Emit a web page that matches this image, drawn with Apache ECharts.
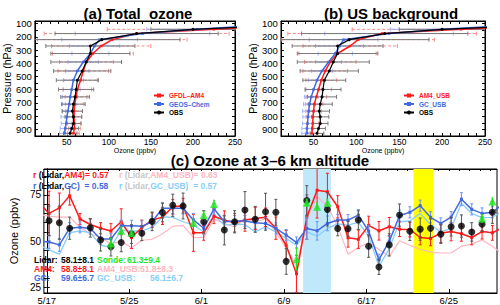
<!DOCTYPE html>
<html><head><meta charset="utf-8">
<script src="https://cdn.jsdelivr.net/npm/echarts@6/dist/echarts.min.js"></script>
<style>html,body{margin:0;padding:0;background:#fff}#c{width:500px;height:305px}</style>
</head><body><div id="c"></div>
<script>
// ---------- vertical profiles (panels a, b) ----------
const pressureLevels = [120,143,175,221,269,326,390,458,528,598,654,709,762,805,855,893,930];
const obsProfile     = [280,200,133,91.6,78,78,73,68.3,62.5,61,59.8,57.8,56.6,57.8,57.8,55.8,54];
const obsProfileErr  = [null,50,97,93,53,47,42,34,25,21,17,14,12,10,9,8,8];
const am4Profile     = [290,225,133,104,90.8,81,73.3,69.5,66.3,62.5,61,59.3,58.6,58.6,59,59,57.8];
const am4ProfileErr  = [null,127,110,89,59,48,32,30,20,17,13,11,10,9,8,7,7];
const gcProfile      = [260,205,140,88.9,83,78,69.5,62.5,57.8,55.8,54,52.8,51.2,50,49.3,48.1,47.3];
const gcProfileErr   = [null,60,80,45,30,22,18,14,12,10,9,8,7,7,6,6,6];
const am4UsbProfile    = [290,222,130,102,92.7,78,69.5,63.6,59,55.8,53.2,50.8,50,49.3,49,48.6,48];
const am4UsbProfileErr = [null,127,110,89,55,45,30,26,18,15,12,10,9,8,7,7,7];
const gcUsbProfile     = [260,200,138,85,80.3,75.3,67.5,59.8,54,50,47.3,45.3,44.2,43.5,43,42.3,42.3];
const gcUsbProfileErr  = [null,60,75,40,28,20,15,12,10,9,8,7,7,6,6,6,6];
const pressureTicks = [100,200,300,400,500,600,700,800,900];
const ozoneTicks = [50,100,150,200,250];

// ---------- 3-6 km time series (panel c) ----------
const sampleTime = 0.22; // fraction of day of the samples
const days = [-1,0,1,2,3,4,5,6,7,8,9,10,11,12,13,14,15,16,17,18,19,20,21,22,23,24,25,26,27,28,29,30,31,32,33,34,35,36,37,38,39,40,41,42,43,44];
const am4Series   = [71,65,68,74.5,62,59,57,55.5,60.5,52,57.4,61.4,63,68.6,69.2,54.5,54.5,63.5,61.4,60,61.4,62.3,62.9,57,47.8,32.4,63,77.5,76.7,68.6,51.8,51,58.5,55.6,57.8,56.5,56.3,52,51.5,54.3,55.2,54,52,55.2,54.5,57.5];
const am4Err      = [null,12,8,5,3,3,3,4,7,6,4,4,4,4,4,10,4,4,5,5,6,6,5,6,8,10,12,15,10,6,5,5,5,5,5,4,4,4,4,5,5,4,4,4,4,null];
const gcSeries    = [50,49.6,48,57,57.5,56.8,51.2,51.2,58.3,58.3,58,60.5,67.8,67.8,67.8,61.5,57,67.5,60.5,60.9,60.9,60,59.6,56.9,53.3,49.3,56.9,55.6,59.6,61.4,61.4,64.1,55.4,40,50,63.8,65.6,69.2,62.9,59.6,63,72.7,67.2,65,65.6,70];
const gcErr       = [null,3.5,3.5,3,3,3,3,3,3,3,3,3,3,3,3,3.5,3,3,3,3,3,3,3,3,3,3,6,5,4,3,3,3,3,3,3,3,3,3,3,3,3,3.5,3,3,3,null];
const gcUsbSeries = [48,45.3,43,54.6,55.5,54.6,47.8,46.8,56,55.5,55.5,57.4,63.2,62.9,60.5,58.7,55,64.1,58.7,59.2,59,55,57.8,55,51.5,47.8,55,52.7,56.9,59.4,58.7,60.2,52.7,36.4,46,60.5,60.9,65,59,55,56.9,70.5,65,62.7,62.9,66];
const am4UsbSeries= [64.5,63.5,63,63,57.5,54,52,48.5,50,46.5,50.5,51,54,58,58.5,52,52,62,59.5,57.8,62,60.5,62,55,46.5,36.5,62,74,69,58,43,46.6,49.3,45.5,41.8,50.2,47.8,45.5,44.2,43.6,43.6,47.3,48.4,50.7,47.2,43];
const lidarSeries = [null,61,60,57,null,57.2,50.7,47,49.3,53.8,54.3,60.7,65.5,69.4,69,null,60.5,null,56,60.5,66.8,61.8,65.9,65.6,39.1,null,72,null,67.2,56.9,56.7,61.4,47.3,36,48,64.1,55.4,56.5,57,53.8,57.8,58.2,55,59.2,65.6,null];
const lidarErr    = [null,8,9,6,null,5,6,5,5,5,4,5,5,6,7,null,6,null,8,6,10,7,10,7,7,null,8,null,9,4,4,5,6,4,6,6,5,6,5,5,5,6,5,4,6,null];
const sondeSeries = [null,null,null,null,null,null,null,48.7,55.6,54.5,null,null,null,null,null,60,64.1,70.1,null,null,null,null,null,null,null,40.4,70.8,68.6,70.8,null,null,null,null,null,null,null,null,null,null,null,null,null,null,62.3,71.4,null];
const sondeErr    = [null,null,null,null,null,null,null,3,2,2,null,null,null,null,null,2,2,2,null,null,null,null,null,null,null,6,2,2,2,null,null,null,null,null,null,null,null,null,null,null,null,null,null,2,2,null];
const dateTickDays = [0,8,15,23,31,39];
const dateTickLabels = ['5/17','5/25','6/1','6/9','6/17','6/25'];
const blueBandDays = [24.86, 27.56];
const yellowBandDays = [35.57, 37.52];
const ozoneSeriesTicks = [25,50,75];

// ---------- helpers ----------
const FONT = '"Liberation Sans", Arial, sans-serif';
const RED = '#ff1a1a', BLUE = '#4169e1', LBLUE = '#87cefa', PINK = '#ffb6c1', GREEN = '#1ee61e', GRAY = '#c8c8c8';
const ANN = 'bold 8.5px ' + FONT;
const NB = '\u00a0';
const measureCtx = document.createElement('canvas').getContext('2d');
function textWidth(s) { measureCtx.font = ANN; return measureCtx.measureText(s).width; }

function hErr(color, cap, dash) {
  return function (params, api) {
    const v = api.value(0), p = api.value(1), e = api.value(2);
    const a = api.coord([v - e, p]), b = api.coord([v + e, p]);
    const st = {stroke: color, lineWidth: 1, lineDash: dash || null};
    const st2 = {stroke: color, lineWidth: 1};
    return {type: 'group', children: [
      {type: 'line', shape: {x1: a[0], y1: a[1], x2: b[0], y2: b[1]}, style: st},
      {type: 'line', shape: {x1: a[0], y1: a[1] - cap, x2: a[0], y2: a[1] + cap}, style: st2},
      {type: 'line', shape: {x1: b[0], y1: b[1] - cap, x2: b[0], y2: b[1] + cap}, style: st2}
    ]};
  };
}
function vErr(color, cap) {
  return function (params, api) {
    const x = api.value(0), y = api.value(1), e = api.value(2);
    const lo = api.coord([x, y - e]), hi = api.coord([x, y + e]);
    const st = {stroke: color, lineWidth: 1};
    return {type: 'group', children: [
      {type: 'line', shape: {x1: lo[0], y1: lo[1], x2: hi[0], y2: hi[1]}, style: st},
      {type: 'line', shape: {x1: lo[0] - cap, y1: lo[1], x2: lo[0] + cap, y2: lo[1]}, style: st},
      {type: 'line', shape: {x1: hi[0] - cap, y1: hi[1], x2: hi[0] + cap, y2: hi[1]}, style: st}
    ]};
  };
}
function profPairs(vals) { return pressureLevels.map((p, i) => [vals[i], p]); }
function profErrData(vals, errs) {
  return pressureLevels.map((p, i) => [vals[i], p, errs[i]]).filter(d => d[2] != null);
}
function tsPairs(vals) { return days.map((d, i) => [d + sampleTime, vals[i]]); }
function tsErrData(vals, errs) {
  return days.map((d, i) => [d + sampleTime, vals[i], errs[i]]).filter(d => d[1] != null && d[2] != null);
}
function range(a, b, s) { const r = []; for (let v = a; v <= b + 1e-9; v += s) r.push(v); return r; }
function txt(x, y, text, fill) {
  return {type: 'text', x: x, y: y, z: 50, style: {text: text, font: ANN, fill: fill, verticalAlign: 'middle', lineHeight: 8.5}};
}
// a run of coloured pieces laid end to end on one line
function run(x, y, pieces) {
  const out = [];
  let cx = x;
  pieces.forEach(([s, c]) => { out.push(txt(cx, y, s, c)); cx += textWidth(s); });
  return out;
}

const axisLineBlack = {show: true, lineStyle: {color: '#000', width: 1}};
function profX(gi, mirror) {
  return {
    gridIndex: gi, type: 'value', min: 12, max: 250, position: mirror ? 'top' : 'bottom',
    axisLine: axisLineBlack,
    axisTick: {show: true, inside: true, length: 3, customValues: range(20, 250, 10), lineStyle: {color: '#000'}},
    axisLabel: {show: !mirror, customValues: ozoneTicks, fontSize: 8.5, color: '#000', margin: 1, fontFamily: FONT},
    splitLine: {show: false},
    name: mirror ? '' : 'Ozone (ppbv)', nameLocation: 'middle', nameGap: 9,
    nameTextStyle: {fontSize: 7, color: '#000', fontFamily: FONT}
  };
}
function profY(gi, mirror) {
  return {
    gridIndex: gi, type: 'value', inverse: true, min: 80, max: 950, position: mirror ? 'right' : 'left',
    axisLine: axisLineBlack,
    axisTick: {show: true, inside: true, length: 3, customValues: range(100, 950, 50), lineStyle: {color: '#000'}},
    axisLabel: {show: !mirror, customValues: pressureTicks, fontSize: 9.5, color: '#000', margin: 19, align: 'left', fontFamily: FONT},
    splitLine: {show: false},
    name: mirror ? '' : 'Pressure (hPa)', nameLocation: 'middle', nameGap: 21,
    nameTextStyle: {fontSize: 10.5, color: '#000', fontFamily: FONT}
  };
}

const option = {
  animation: false,
  backgroundColor: '#fff',
  grid: [
    {left: 31, top: 21, width: 204, height: 115, show: true, borderColor: '#000', borderWidth: 1},
    {left: 281, top: 21, width: 204, height: 115, show: true, borderColor: '#000', borderWidth: 1},
    {left: 25, top: 169, width: 472, height: 124, show: true, borderColor: '#000', borderWidth: 1}
  ],
  xAxis: [
    profX(0, false), profX(1, false),
    {
      gridIndex: 2, type: 'value', min: -0.28, max: 43.67,
      axisLine: axisLineBlack,
      axisTick: {show: true, inside: true, length: 4, customValues: dateTickDays, lineStyle: {color: '#000'}},
      axisLabel: {customValues: dateTickDays, formatter: v => dateTickLabels[dateTickDays.indexOf(Math.round(v))] || '',
        fontSize: 9.5, color: '#000', margin: 2, fontFamily: FONT},
      splitLine: {show: false}
    },
    profX(0, true), profX(1, true),
    {
      gridIndex: 2, type: 'value', min: -0.28, max: 43.67, position: 'top',
      axisLine: axisLineBlack,
      axisTick: {show: true, inside: true, length: 2, customValues: range(0, 43, 1), lineStyle: {color: '#000'}},
      axisLabel: {show: false}, splitLine: {show: false}
    }
  ],
  yAxis: [
    profY(0, false), profY(1, false),
    {
      gridIndex: 2, type: 'value', min: 22, max: 89,
      axisLine: axisLineBlack,
      axisTick: {show: true, inside: true, length: 3, customValues: range(25, 85, 5), lineStyle: {color: '#000'}},
      axisLabel: {customValues: ozoneSeriesTicks, fontSize: 10, color: '#000', margin: 14, align: 'left', fontFamily: FONT},
      splitLine: {show: false},
      name: 'Ozone (ppbv)', nameLocation: 'middle', nameGap: 13,
      nameTextStyle: {fontSize: 11, color: '#000', fontFamily: FONT}
    },
    profY(0, true), profY(1, true),
    {
      gridIndex: 2, type: 'value', min: 22, max: 89, position: 'right',
      axisLine: axisLineBlack,
      axisTick: {show: true, inside: true, length: 3, customValues: range(25, 85, 5), lineStyle: {color: '#000'}},
      axisLabel: {show: false}, splitLine: {show: false}
    }
  ],
  legend: [
    {left: 153, top: 92, orient: 'vertical', itemWidth: 10, itemHeight: 5, itemGap: 1.5, padding: 0,
     selectedMode: false, textStyle: {fontSize: 6.5, fontWeight: 'bold', fontFamily: FONT},
     data: [{name: 'GFDL–AM4', textStyle: {color: RED}}, {name: 'GEOS–Chem', textStyle: {color: BLUE}}, {name: 'OBS', textStyle: {color: '#000'}}]},
    {left: 403, top: 92, orient: 'vertical', itemWidth: 10, itemHeight: 5, itemGap: 1.5, padding: 0,
     selectedMode: false, textStyle: {fontSize: 6.5, fontWeight: 'bold', fontFamily: FONT},
     data: [{name: 'AM4_USB', textStyle: {color: RED}}, {name: 'GC_USB', textStyle: {color: BLUE}}, {name: 'OBS', textStyle: {color: '#000'}}]}
  ],
  series: [
    // ----- panel (a) -----
    {type: 'custom', xAxisIndex: 0, yAxisIndex: 0, clip: true, renderItem: hErr('#ff8a8a', 2, [3, 2]), data: profErrData(am4Profile, am4ProfileErr), z: 2},
    {type: 'custom', xAxisIndex: 0, yAxisIndex: 0, clip: true, renderItem: hErr('#9db5ff', 2), data: profErrData(gcProfile, gcProfileErr), z: 2},
    {type: 'custom', xAxisIndex: 0, yAxisIndex: 0, clip: true, renderItem: hErr('#7a7a7a', 2), data: profErrData(obsProfile, obsProfileErr), z: 2},
    {name: 'GFDL–AM4', type: 'line', xAxisIndex: 0, yAxisIndex: 0, data: profPairs(am4Profile), clip: true,
     lineStyle: {color: RED, width: 1.5}, itemStyle: {color: RED}, symbol: 'rect', symbolSize: 2.5, z: 4},
    {name: 'GEOS–Chem', type: 'line', xAxisIndex: 0, yAxisIndex: 0, data: profPairs(gcProfile), clip: true,
     lineStyle: {color: BLUE, width: 1.5}, itemStyle: {color: BLUE}, symbol: 'rect', symbolSize: 2.5, z: 4},
    {name: 'OBS', type: 'line', xAxisIndex: 0, yAxisIndex: 0, data: profPairs(obsProfile), clip: true,
     lineStyle: {color: '#000', width: 1.2}, itemStyle: {color: '#000'}, symbol: 'circle', symbolSize: 3, z: 5},
    // ----- panel (b) -----
    {type: 'custom', xAxisIndex: 1, yAxisIndex: 1, clip: true, renderItem: hErr('#ff8a8a', 2, [3, 2]), data: profErrData(am4UsbProfile, am4UsbProfileErr), z: 2},
    {type: 'custom', xAxisIndex: 1, yAxisIndex: 1, clip: true, renderItem: hErr('#9db5ff', 2), data: profErrData(gcUsbProfile, gcUsbProfileErr), z: 2},
    {type: 'custom', xAxisIndex: 1, yAxisIndex: 1, clip: true, renderItem: hErr('#7a7a7a', 2), data: profErrData(obsProfile, obsProfileErr), z: 2},
    {name: 'AM4_USB', type: 'line', xAxisIndex: 1, yAxisIndex: 1, data: profPairs(am4UsbProfile), clip: true,
     lineStyle: {color: RED, width: 1.5}, itemStyle: {color: RED}, symbol: 'rect', symbolSize: 2.5, z: 4},
    {name: 'GC_USB', type: 'line', xAxisIndex: 1, yAxisIndex: 1, data: profPairs(gcUsbProfile), clip: true,
     lineStyle: {color: BLUE, width: 1.5}, itemStyle: {color: BLUE}, symbol: 'rect', symbolSize: 2.5, z: 4},
    {name: 'OBS', type: 'line', xAxisIndex: 1, yAxisIndex: 1, data: profPairs(obsProfile), clip: true,
     lineStyle: {color: '#000', width: 1.2}, itemStyle: {color: '#000'}, symbol: 'circle', symbolSize: 3, z: 5},
    // ----- panel (c) -----
    {name: 'AM4_USB_ts', type: 'line', xAxisIndex: 2, yAxisIndex: 2, data: tsPairs(am4UsbSeries), clip: true,
     showSymbol: false, lineStyle: {color: PINK, width: 1.2}, z: 2,
     markArea: {silent: true, itemStyle: {color: '#bfe9fb'}, data: [[{xAxis: blueBandDays[0]}, {xAxis: blueBandDays[1]}]]}},
    {name: 'yellowBand', type: 'line', xAxisIndex: 2, yAxisIndex: 2, data: [], z: 1,
     markArea: {silent: true, itemStyle: {color: '#ffff00'}, data: [[{xAxis: yellowBandDays[0]}, {xAxis: yellowBandDays[1]}]]}},
    {name: 'GC_USB_ts', type: 'line', xAxisIndex: 2, yAxisIndex: 2, data: tsPairs(gcUsbSeries), clip: true,
     showSymbol: false, lineStyle: {color: LBLUE, width: 1.3}, z: 3},
    {type: 'custom', xAxisIndex: 2, yAxisIndex: 2, clip: true, renderItem: vErr(RED, 1.5), data: tsErrData(am4Series, am4Err), z: 4},
    {name: 'AM4_ts', type: 'line', xAxisIndex: 2, yAxisIndex: 2, data: tsPairs(am4Series), clip: true,
     lineStyle: {color: RED, width: 1.5}, itemStyle: {color: RED}, symbol: 'rect', symbolSize: 3, z: 5},
    {type: 'custom', xAxisIndex: 2, yAxisIndex: 2, clip: true, renderItem: vErr('#6f93f0', 1.5), data: tsErrData(gcSeries, gcErr), z: 6},
    {name: 'GC_ts', type: 'line', xAxisIndex: 2, yAxisIndex: 2, data: tsPairs(gcSeries), clip: true,
     lineStyle: {color: BLUE, width: 1.5}, itemStyle: {color: BLUE}, symbol: 'rect', symbolSize: 3, z: 7},
    {type: 'custom', xAxisIndex: 2, yAxisIndex: 2, clip: true, renderItem: vErr('#555', 1.5), data: tsErrData(lidarSeries, lidarErr), z: 8},
    {name: 'Lidar_ts', type: 'scatter', xAxisIndex: 2, yAxisIndex: 2, data: tsPairs(lidarSeries).filter(d => d[1] != null),
     symbol: 'circle', symbolSize: 7, itemStyle: {color: '#000'}, z: 9},
    {type: 'custom', xAxisIndex: 2, yAxisIndex: 2, clip: true, renderItem: vErr(GREEN, 1), data: tsErrData(sondeSeries, sondeErr), z: 10},
    {name: 'Sonde_ts', type: 'scatter', xAxisIndex: 2, yAxisIndex: 2, data: tsPairs(sondeSeries).filter(d => d[1] != null),
     symbol: 'triangle', symbolSize: 8, itemStyle: {color: GREEN}, z: 11}
  ],
  graphic: [
    {type: 'text', x: 138, y: 13, z: 50, style: {text: '(a) Total' + NB + NB + 'ozone', font: 'bold 15px ' + FONT, fill: '#000', align: 'center', verticalAlign: 'middle'}},
    {type: 'text', x: 391, y: 13, z: 50, style: {text: '(b) US background', font: 'bold 15px ' + FONT, fill: '#000', align: 'center', verticalAlign: 'middle'}},
    {type: 'text', x: 270, y: 160.5, z: 50, style: {text: '(c) Ozone at 3–6 km altitude', font: 'bold 15px ' + FONT, fill: '#000', align: 'center', verticalAlign: 'middle'}}
  ].concat(
    run(33, 175, [['r' + NB, RED], ['(Lidar,', '#000'], ['AM4)=' + NB + '0.57', RED]]),
    run(119, 175, [['r' + NB, PINK], ['(Lidar,', GRAY], ['AM4_USB)=' + NB + '0.63', PINK]]),
    run(33, 185.5, [['r' + NB, BLUE], ['(Lidar,', '#000'], ['GC)' + NB + NB + '=' + NB + '0.58', BLUE]]),
    run(119, 185.5, [['r' + NB, LBLUE], ['(Lidar,', GRAY], ['GC_USB)' + NB + NB + '=' + NB + '0.57', LBLUE]]),
    [
      txt(34, 260, 'Lidar:', '#000'),    txt(61, 260, '58.1±8.1', '#000'),
      txt(97, 260, 'Sonde:', GREEN),     txt(127, 260, '61.3±9.4', GREEN),
      txt(34, 269, 'AM4:', RED),         txt(61, 269, '58.8±8.1', RED),
      txt(97, 269, 'AM4_USB:', PINK),    txt(140, 269, '51.8±8.3', PINK),
      txt(34, 277.8, 'GC:', BLUE),       txt(61, 277.8, '59.6±6.7', BLUE),
      txt(97, 277.8, 'GC_USB:', LBLUE),  txt(150, 277.8, '56.1±6.7', LBLUE)
    ]
  )
};
const chart = echarts.init(document.getElementById('c'), null, {renderer: 'svg'});
chart.setOption(option);
</script>
</body></html>
